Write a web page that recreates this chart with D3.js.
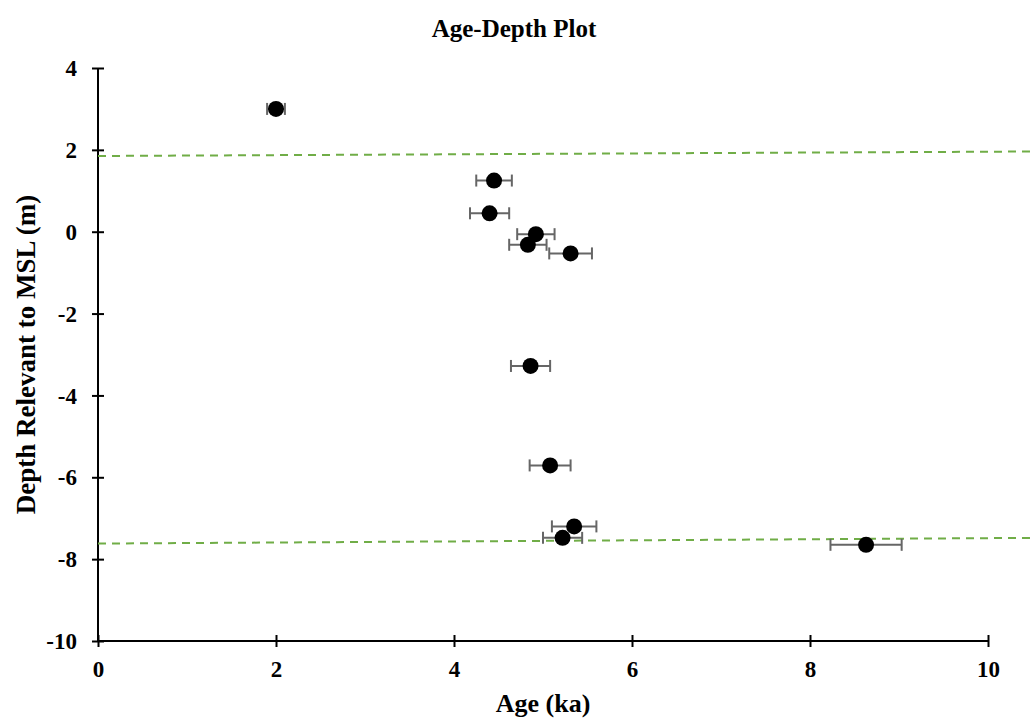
<!DOCTYPE html>
<html>
<head>
<meta charset="utf-8">
<script src="https://cdn.jsdelivr.net/npm/d3@7"></script>
<style>
  html, body { margin: 0; padding: 0; background: #fff; }
  svg { display: block; }
  svg text { font-family: "Liberation Serif", "Times New Roman", serif; font-weight: bold; fill: #000; }
</style>
</head>
<body>
<svg id="chart" width="1032" height="727"></svg>
<script>
// Sample ages (ka), depths (m relative to MSL) and age uncertainty (± ka)
const ages   = [2.00, 4.45, 4.40, 4.92, 4.83, 5.31, 4.86, 5.08, 5.35, 5.22, 8.63];
const depths = [3.00, 1.25, 0.45, -0.06, -0.32, -0.53, -3.28, -5.71, -7.20, -7.48, -7.65];
const ageErr = [0.10, 0.20, 0.22, 0.21, 0.21, 0.24, 0.22, 0.23, 0.25, 0.22, 0.40];

// Reference lines (dashed) as [age, depth] end points
const upperLine = [[0, 1.85], [10.5, 1.96]];
const lowerLine = [[0, -7.62], [10.5, -7.48]];

const xTicks = [0, 2, 4, 6, 8, 10];
const yTicks = [4, 2, 0, -2, -4, -6, -8, -10];

const svg = d3.select("#chart");
const x = d3.scaleLinear().domain([0, 10]).range([98, 988]);
const y = d3.scaleLinear().domain([-10, 4]).range([641, 68]);

// Axes: ticks cross the axis line
const xAxis = d3.axisBottom(x).tickValues(xTicks).tickSize(0).tickFormat(d3.format("d"));
const yAxis = d3.axisLeft(y).tickValues(yTicks).tickSize(0).tickFormat(d => d < 0 ? "-" + Math.abs(d) : d);

const gx = svg.append("g").attr("transform", `translate(0,${y(-10)})`).call(xAxis)
  .attr("font-family", "Liberation Serif").attr("font-size", 23);
gx.select(".domain").attr("stroke", "#000").attr("stroke-width", 2).attr("d", `M${x(0)},0H${x(10)}`);
gx.selectAll(".tick").append("line").attr("y1", -6).attr("y2", 6).attr("stroke", "#000").attr("stroke-width", 2);
gx.selectAll(".tick text").attr("y", 20).attr("dy", "0.71em");

const gy = svg.append("g").attr("transform", `translate(${x(0)},0)`).call(yAxis)
  .attr("font-family", "Liberation Serif").attr("font-size", 23);
gy.select(".domain").attr("stroke", "#000").attr("stroke-width", 2).attr("d", `M0,${y(4)}V${y(-10)}`);
gy.selectAll(".tick").append("line").attr("x1", -6).attr("x2", 6).attr("stroke", "#000").attr("stroke-width", 2);
gy.selectAll(".tick text").attr("x", -21).attr("dy", "0.33em");

// Dashed reference lines
const line = d3.line().x(d => x(d[0])).y(d => y(d[1]));
[upperLine, lowerLine].forEach(pts => {
  svg.append("path")
    .attr("d", line(pts))
    .attr("fill", "none")
    .attr("stroke", "#70ad47")
    .attr("stroke-width", 2)
    .attr("stroke-dasharray", "8,6");
});

// Error bars
const data = ages.map((a, i) => ({ age: a, depth: depths[i], err: ageErr[i] }));
const eb = svg.append("g").attr("stroke", "#666").attr("stroke-width", 2).attr("fill", "none");
data.forEach(d => {
  const cy = y(d.depth);
  eb.append("line").attr("x1", x(d.age - d.err)).attr("x2", x(d.age + d.err)).attr("y1", cy).attr("y2", cy);
  eb.append("line").attr("x1", x(d.age - d.err)).attr("x2", x(d.age - d.err)).attr("y1", cy - 6).attr("y2", cy + 6);
  eb.append("line").attr("x1", x(d.age + d.err)).attr("x2", x(d.age + d.err)).attr("y1", cy - 6).attr("y2", cy + 6);
});

// Sample points
svg.append("g").selectAll("circle").data(data).join("circle")
  .attr("cx", d => x(d.age)).attr("cy", d => y(d.depth)).attr("r", 8).attr("fill", "#000");

// Titles
svg.append("text").attr("x", 514).attr("y", 37).attr("text-anchor", "middle")
  .attr("font-size", 25).text("Age-Depth Plot");
svg.append("text").attr("x", x(5)).attr("y", 712).attr("text-anchor", "middle")
  .attr("font-size", 26).text("Age (ka)");
svg.append("text").attr("transform", `translate(35,${(y(4) + y(-10)) / 2}) rotate(-90)`)
  .attr("text-anchor", "middle")
  .attr("font-size", 27).text("Depth Relevant to MSL (m)");
</script>
</body>
</html>
